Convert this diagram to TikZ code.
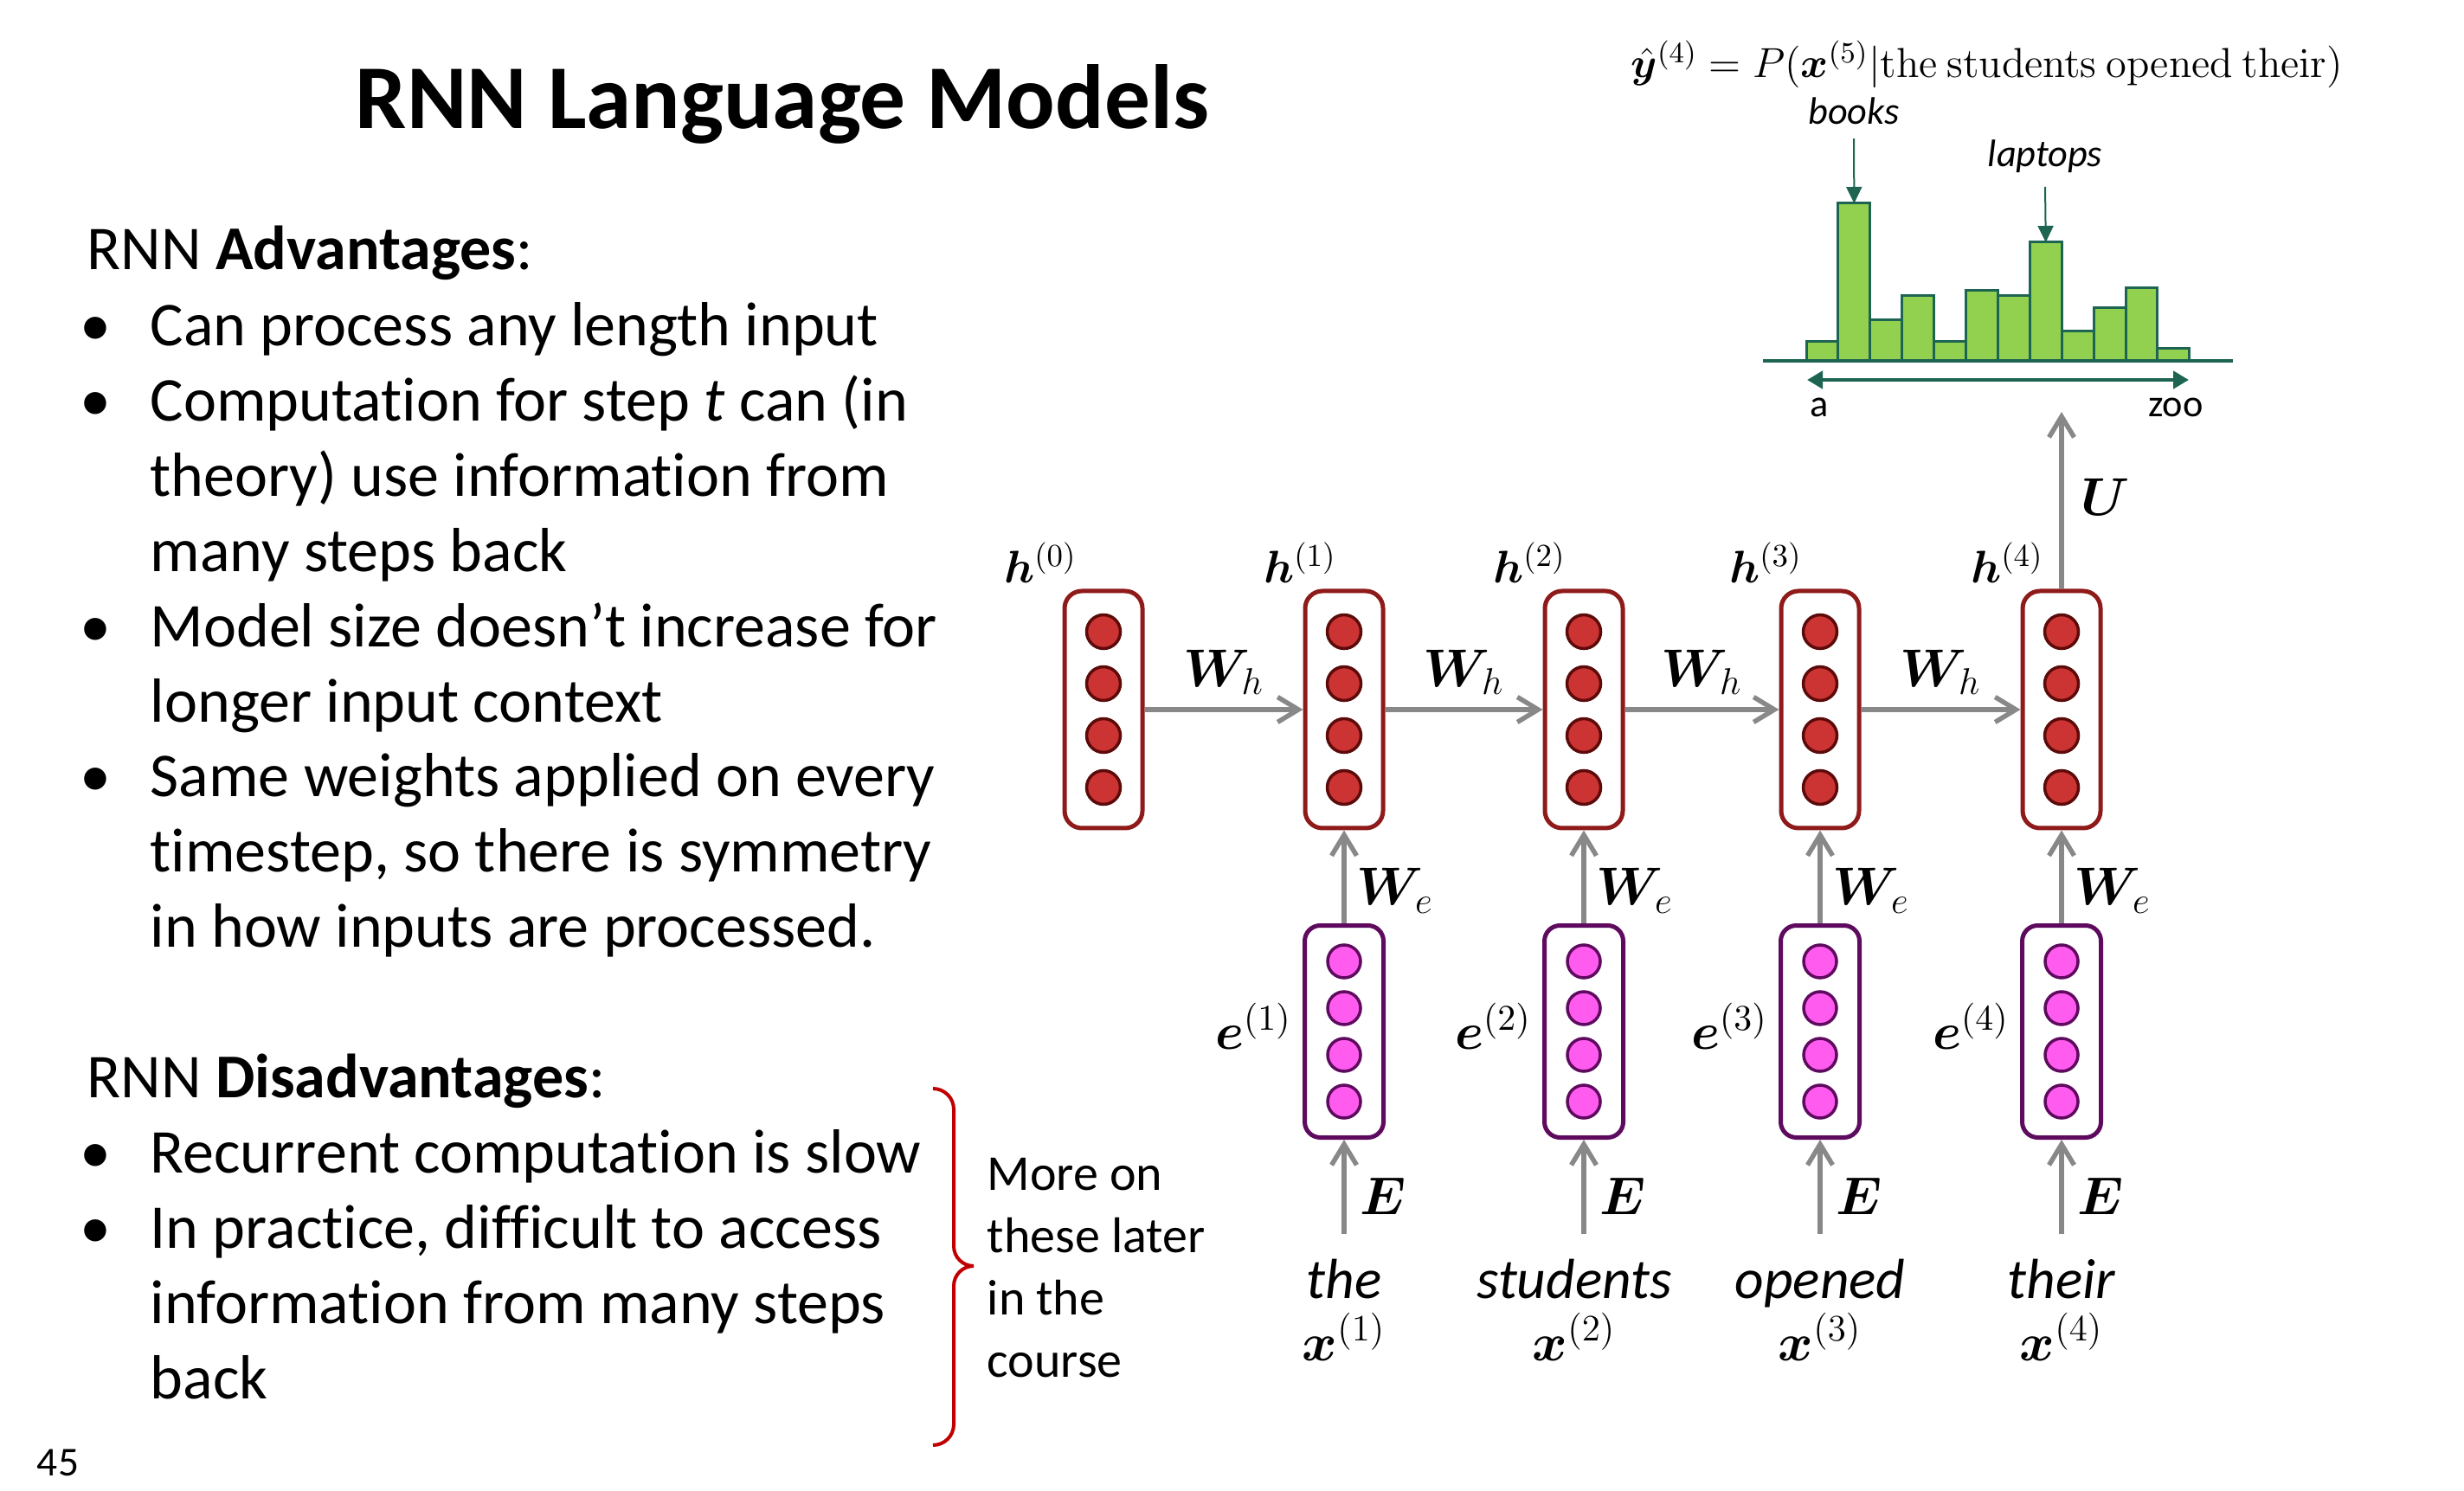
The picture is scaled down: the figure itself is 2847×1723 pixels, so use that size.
\RequirePackage{fix-cm}
\documentclass[tikz,border=0pt]{standalone}
\usepackage{amsmath}
\usepackage{bm}
\usepackage[no-math]{fontspec}
\setmainfont{Carlito}[Ligatures=NoCommon]
\usetikzlibrary{arrows.meta}
\definecolor{hFrame}{HTML}{8E1A1A}
\definecolor{hDot}{HTML}{CC3333}
\definecolor{hDotRim}{HTML}{5C0A0A}
\definecolor{eFrame}{HTML}{5E0A5E}
\definecolor{eDot}{HTML}{FF5BEF}
\definecolor{flowGray}{HTML}{888888}
\definecolor{barGreen}{HTML}{92D050}
\definecolor{barTeal}{HTML}{1E6452}
\definecolor{braceRed}{HTML}{C00000}
\newcommand{\fsz}[1]{\fontsize{#1}{#1}\selectfont}

\begin{document}
\begin{tikzpicture}[x=0.1mm, y=-0.1mm,
  hbox/.style={draw=hFrame, line width=0.5mm, rounded corners=2mm, fill=white,
               minimum width=9.0mm, minimum height=27.4mm, inner sep=0pt},
  ebox/.style={draw=eFrame, line width=0.5mm, rounded corners=1.8mm, fill=white,
               minimum width=9.1mm, minimum height=24.5mm, inner sep=0pt},
  hunit/.style={circle, fill=hDot, draw=hDotRim, line width=0.35mm, minimum size=3.9mm, inner sep=0pt},
  eunit/.style={circle, fill=eDot, draw=eFrame, line width=0.35mm, minimum size=3.8mm, inner sep=0pt},
  flow/.style={draw=flowGray, line width=0.55mm, -{Straight Barb[length=2.4mm, width=2.9mm]}},
  pointer/.style={draw=barTeal, line width=0.2mm, -{Triangle[length=1.9mm, width=1.8mm]}},
  bar/.style={fill=barGreen, draw=barTeal, line width=0.3mm},
  wlab/.style={font=\fsz{17.5}, inner sep=1.2mm},
  hlab/.style={font=\fsz{15}, inner sep=0pt},
  body/.style={font=\fsz{20.5}, inner sep=0pt},
  histlab/.style={font=\fsz{12.6}, inner sep=1.5mm}]
  \fill[white] (0,0) rectangle (2847,1723);
  \useasboundingbox (0,0) rectangle (2847,1723);

  % title and left column
  \node[anchor=base, font=\fsz{30}\bfseries] (title) at (904,149) {RNN Language Models};
  \node[body, anchor=base west] (advhead) at (100,312) {RNN \textbf{Advantages}:};
  \node[body, anchor=base west] (dishead) at (100,1268) {RNN \textbf{Disadvantages}:};
  \foreach \y in {400,487,748,921,1355,1442}
    \node[body, anchor=base] (bul\y) at (110,\y) {\textbullet};
  \foreach \y/\txt in {400/{Can process any length input},
                       487/{Computation for step \textit{t} can (in},
                       574/{theory) use information from},
                       661/{many steps back},
                       748/{Model size doesn’t increase for},
                       835/{longer input context},
                       921/{Same weights applied on every},
                       1008/{timestep, so there is symmetry},
                       1095/{in how inputs are processed.},
                       1355/{Recurrent computation is slow},
                       1442/{In practice, difficult to access},
                       1529/{information from many steps},
                       1616/{back}}
    \node[body, anchor=base west] (line\y) at (173,\y) {\txt};

  \draw[braceRed, line width=0.4mm] (1078,1258) to[out=0, in=90] (1102,1282) -- (1102,1440)
    to[out=-90, in=180] (1125,1463) to[out=180, in=90] (1102,1486) -- (1102,1646)
    to[out=-90, in=0] (1078,1670);
  \foreach \txt [count=\i] in {More on, these later, in the, course}
    \node[anchor=base west, font=\fsz{16.5}, inner sep=0pt] (note\i) at (1140,{1375+(\i-1)*72}) {\txt};
  \node[anchor=base, font=\fsz{13.5}] (pagenum) at (67,1705) {45};

  % hidden states
  \foreach \x/\off [count=\i from 0] in {1275/-3mm, 1553/-0.8mm, 1830/-2mm, 2103/-2mm, 2382/-2mm} {
    \node[hbox] (h\i) at (\x,820) {};
    \foreach \k in {0,...,3}
      \node[hunit] (hu\i\k) at ([yshift={(1.5-\k)*6mm}]h\i.center) {};
    \node[hlab, anchor=base east] (hl\i) at ([xshift=\off, yshift=0.7mm]h\i.north) {$\bm{h}^{(\i)}$};
  }
  \foreach \i/\j in {0/1,1/2,2/3,3/4}
    \draw[flow] (h\i.east) -- node[wlab, above, inner sep=1.5mm] (Wh\j) {$\bm{W}_h$} (h\j.west);

  % embeddings and words
  \foreach \x/\wx/\word [count=\i] in {1553/1553/the, 1830/1819/students, 2103/2103/opened, 2382/2382/their} {
    \node[ebox] (e\i) at (\x,1192) {};
    \foreach \k in {0,...,3}
      \node[eunit] (eu\i\k) at ([yshift={(1.5-\k)*5.4mm}]e\i.center) {};
    \node[hlab, font=\fsz{17}, anchor=base east] (el\i) at ([xshift=-1.2mm, yshift=-2mm]e\i.west) {$\bm{e}^{(\i)}$};
    \node[anchor=base, font=\fsz{18.6}\itshape, inner sep=0pt] (w\i) at (\wx,1500) {\word};
    \node[anchor=base, font=\fsz{17.5}, inner sep=0pt] (x\i) at (\wx,1572) {$\bm{x}^{(\i)}$};
    \draw[flow, shorten <=2.8mm] (e\i.south |- w\i.north) -- node[wlab, pos=0.52, right, inner sep=1.6mm] (E\i) {$\bm{E}$} (e\i.south);
    \draw[flow] (e\i.north) -- node[wlab, pos=0.35, right] (We\i) {$\bm{W}_e$} (h\i.south);
  }

  % output distribution
  \coordinate (yin) at (2382,476);
  \draw[flow] (h4.north) -- node[wlab, pos=0.52, right, inner sep=2mm] (U) {$\bm{U}$} (yin);
  \foreach \ht [count=\i] in {22,182,47,75,22,81,75,137,34,61,84,14} {
    \draw[bar] ({2087+(\i-1)*36.9},417) rectangle ++(36.9,-\ht);
    \coordinate (top\i) at ({2087+(\i-0.5)*36.9},{417-\ht});
  }
  \draw[barTeal, line width=0.45mm] (2037,417) -- (2580,417);
  \coordinate (afirst) at (2088,439);
  \coordinate (zlast) at (2529,439);
  \draw[barTeal, line width=0.45mm, {Triangle[length=1.8mm, width=2mm]}-{Triangle[length=1.8mm, width=2mm]}] (afirst) -- (zlast);
  \node[histlab, anchor=base] (va) at (2102,482) {a};
  \node[histlab, anchor=base] (vz) at (2514,482) {zoo};
  \node[histlab, anchor=base] (books) at (2142,144) {\textit{books}};
  \node[histlab, anchor=base] (laptops) at (2363,193) {\textit{laptops}};
  \draw[pointer] (books.south) -- (top2);
  \draw[pointer] (laptops.south) -- (top8);
  \node[anchor=base, font=\fsz{13.8}] (yhat) at (2296,90)
    {$\hat{\bm{y}}^{(4)} = P(\bm{x}^{(5)} | \mathrm{the\ students\ opened\ their})$};
\end{tikzpicture}
\end{document}
